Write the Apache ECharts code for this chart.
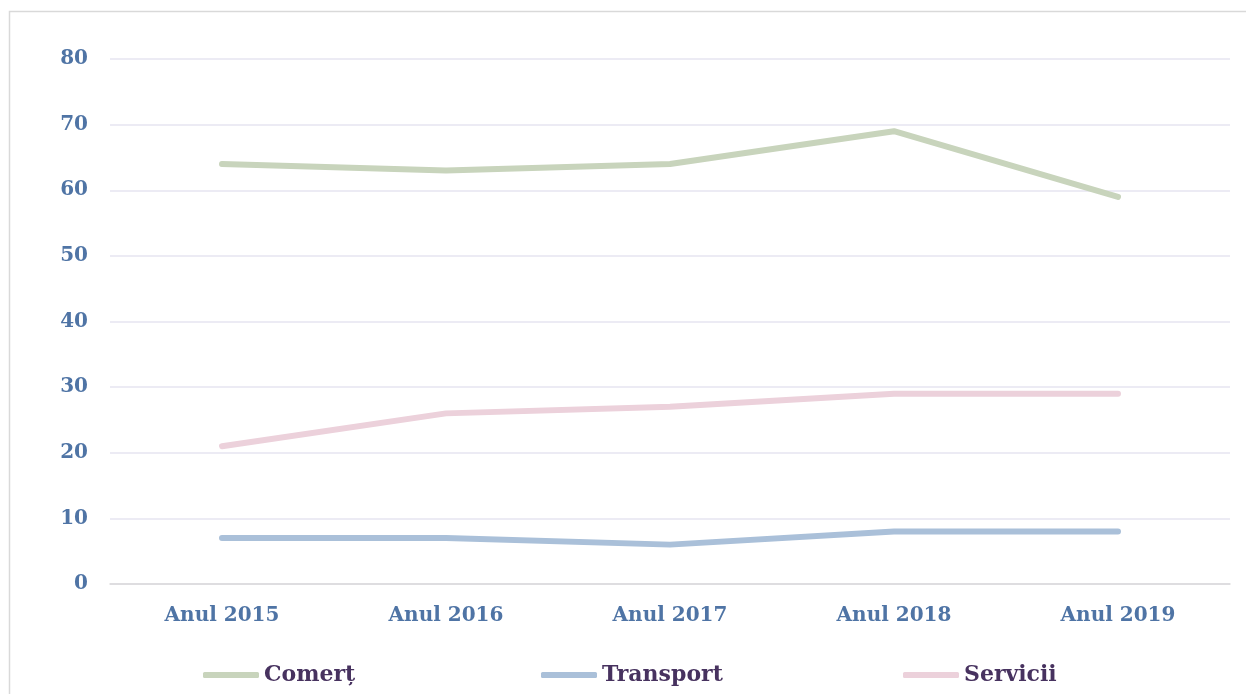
<!DOCTYPE html>
<html><head><meta charset="utf-8">
<script src="https://cdn.jsdelivr.net/npm/echarts@6/dist/echarts.min.js"></script>
<style>html,body{margin:0;padding:0;background:#fff}#c{width:1246px;height:694px}</style>
</head><body><div id="c"></div>
<script>
const categories = ['Anul 2015','Anul 2016','Anul 2017','Anul 2018','Anul 2019'];
const comert = [64, 63, 64, 69, 59];
const transport = [7, 7, 6, 8, 8];
const servicii = [21, 26, 27, 29, 29];
const yTicks = {min: 0, max: 80, interval: 10};

const font = 'DejaVu Serif';
const chart = echarts.init(document.getElementById('c'));
const legendBase = {
  top: 659, itemWidth: 56, itemHeight: 6, itemGap: 4, icon: 'roundRect',
  textStyle: {fontFamily: font, fontWeight: 'bold', fontSize: 22, color: '#47325f'},
  selectedMode: false
};
function mkSeries(name, data, color) {
  return {name, type: 'line', data, symbol: 'none', smooth: false,
    lineStyle: {color, width: 6, cap: 'round', join: 'round'}, itemStyle: {color}};
}
chart.setOption({
  animation: false,
  graphic: [{type: 'rect', shape: {x: 9.5, y: 11.5, width: 1300, height: 700},
    style: {fill: 'none', stroke: '#d9d9d9', lineWidth: 1.5}, z: -1}],
  grid: {left: 110, right: 16, top: 59, bottom: 110},
  xAxis: {type: 'category', data: categories, boundaryGap: true,
    axisLine: {show: true, lineStyle: {color: '#d9d9d9', width: 1.5}},
    axisTick: {show: false},
    axisLabel: {fontFamily: font, fontWeight: 'bold', fontSize: 20, color: '#4f74a5', margin: 22}},
  yAxis: {type: 'value', min: yTicks.min, max: yTicks.max, interval: yTicks.interval,
    axisLine: {show: false}, axisTick: {show: false},
    splitLine: {lineStyle: {color: '#e6e4f0', width: 1.5}},
    axisLabel: {fontFamily: font, fontWeight: 'bold', fontSize: 20, color: '#4f74a5', margin: 22}},
  legend: [
    Object.assign({}, legendBase, {left: 198, data: ['Comerț']}),
    Object.assign({}, legendBase, {left: 536, data: ['Transport']}),
    Object.assign({}, legendBase, {left: 898, data: ['Servicii']})
  ],
  series: [
    mkSeries('Comerț', comert, '#c8d4bc'),
    mkSeries('Transport', transport, '#aac0d9'),
    mkSeries('Servicii', servicii, '#ecd1db')
  ]
});
</script></body></html>
